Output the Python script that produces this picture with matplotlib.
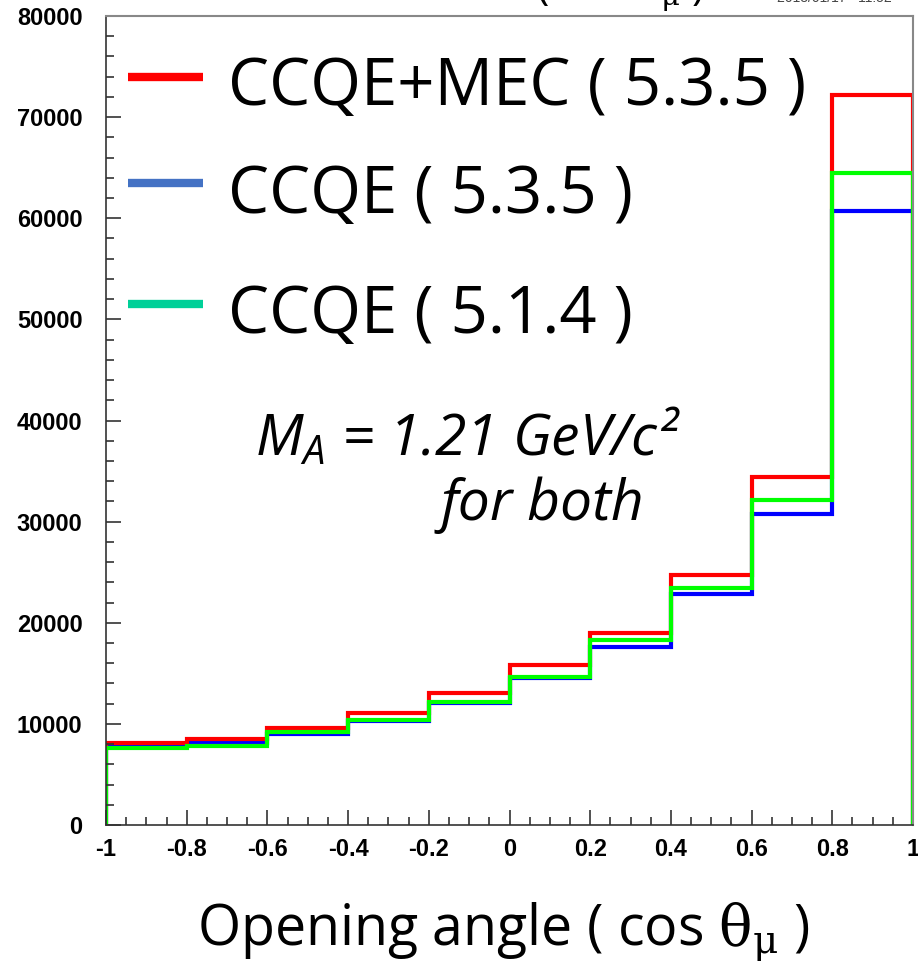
import matplotlib
matplotlib.use("Agg")
import matplotlib.pyplot as plt
from matplotlib.ticker import MultipleLocator
from matplotlib.lines import Line2D

# cos(theta_mu) histogram, 10 bins from -1 to 1
edges = [-1.0, -0.8, -0.6, -0.4, -0.2, 0.0, 0.2, 0.4, 0.6, 0.8, 1.0]
ccqe_mec_535 = [8080, 8470, 9620, 11080, 13020, 15820, 19020, 24720, 34410, 72190]
ccqe_535 = [7840, 8080, 8970, 10280, 12090, 14570, 17630, 22840, 30790, 60720]
ccqe_514 = [7640, 7840, 9230, 10380, 12190, 14660, 18290, 23390, 32140, 64470]

legend_labels = ["CCQE+MEC ( 5.3.5 )", "CCQE ( 5.3.5 )", "CCQE ( 5.1.4 )"]
legend_colors = ["#ff0000", "#4472c4", "#00d098"]

plt.rcParams['mathtext.fontset'] = 'custom'
plt.rcParams['mathtext.rm'] = 'DejaVu Serif'
plt.rcParams['mathtext.it'] = 'Open Sans:italic'

W, H = 918, 966
fig = plt.figure(figsize=(W / 100, H / 100), dpi=100)


def fx(px):
    return px / W


def fy(py):
    return 1 - py / H


ax = fig.add_axes([fx(106), fy(825), fx(913) - fx(106), fy(16) - fy(825)])

# histograms
ax.stairs(ccqe_535, edges, baseline=0, color="#0000ff", lw=3)
ax.stairs(ccqe_mec_535, edges, baseline=0, color="#ff0000", lw=3)
ax.stairs(ccqe_514, edges, baseline=0, color="#00ff00", lw=3)

ax.set_xlim(-1, 1)
ax.set_ylim(0, 80000)
ax.xaxis.set_major_locator(MultipleLocator(0.2))
ax.xaxis.set_minor_locator(MultipleLocator(0.05))
ax.yaxis.set_major_locator(MultipleLocator(10000))
ax.yaxis.set_minor_locator(MultipleLocator(2000))
ax.tick_params(which='both', direction='in', color='#333333', width=1.2,
               top=False, right=False)
ax.tick_params(which='major', length=11)
ax.tick_params(which='minor', length=5.5)
ax.tick_params(axis='y', pad=17)
ax.tick_params(axis='x', pad=9)
ax.xaxis.set_major_formatter(plt.FuncFormatter(lambda v, p: f"{round(v, 2):g}"))
for lab in ax.get_xticklabels() + ax.get_yticklabels():
    lab.set_fontfamily('Liberation Sans')
    lab.set_fontweight('bold')
    lab.set_fontsize(17)
for side in ['left', 'bottom']:
    ax.spines[side].set_color('#333333')
    ax.spines[side].set_linewidth(1.2)
for side in ['top', 'right']:
    ax.spines[side].set_color('#888888')
    ax.spines[side].set_linewidth(1.5)

# legend drawn by hand
line_y = [77, 183, 304]
text_base = [105, 213, 333]
for lab, col, ly, tb in zip(legend_labels, legend_colors, line_y, text_base):
    fig.add_artist(Line2D([fx(128), fx(203)], [fy(ly), fy(ly)], color=col, lw=6,
                          solid_capstyle='butt'))
    fig.text(fx(228), fy(tb), lab, family='Open Sans', fontsize=47, va='baseline',
             ha='left')

# annotation
fig.text(fx(255), fy(455), r"$M_A$ = 1.21 GeV/c²", family='Open Sans', style='italic',
         fontsize=41, va='baseline', ha='left')
fig.text(fx(440), fy(520), "for both", family='Open Sans', style='italic',
         fontsize=41, va='baseline', ha='left')

# x axis title
fig.text(fx(197), fy(945), r"Opening angle ( cos $\mathrm{θ_{μ}}$ )", family='Open Sans',
         fontsize=40, va='baseline', ha='left')

# histogram title and date stamp, running off the top edge
fig.text(fx(620), fy(-1), r"( cos $\mathrm{θ_{μ}}$ )", family='Open Sans', fontsize=30,
         va='baseline', ha='center')
fig.text(fx(777), fy(2), "2013/01/17   11:52", family='Liberation Sans', fontsize=10,
         va='baseline', ha='left', color='#444444')

fig.savefig("out.png", dpi=100)
